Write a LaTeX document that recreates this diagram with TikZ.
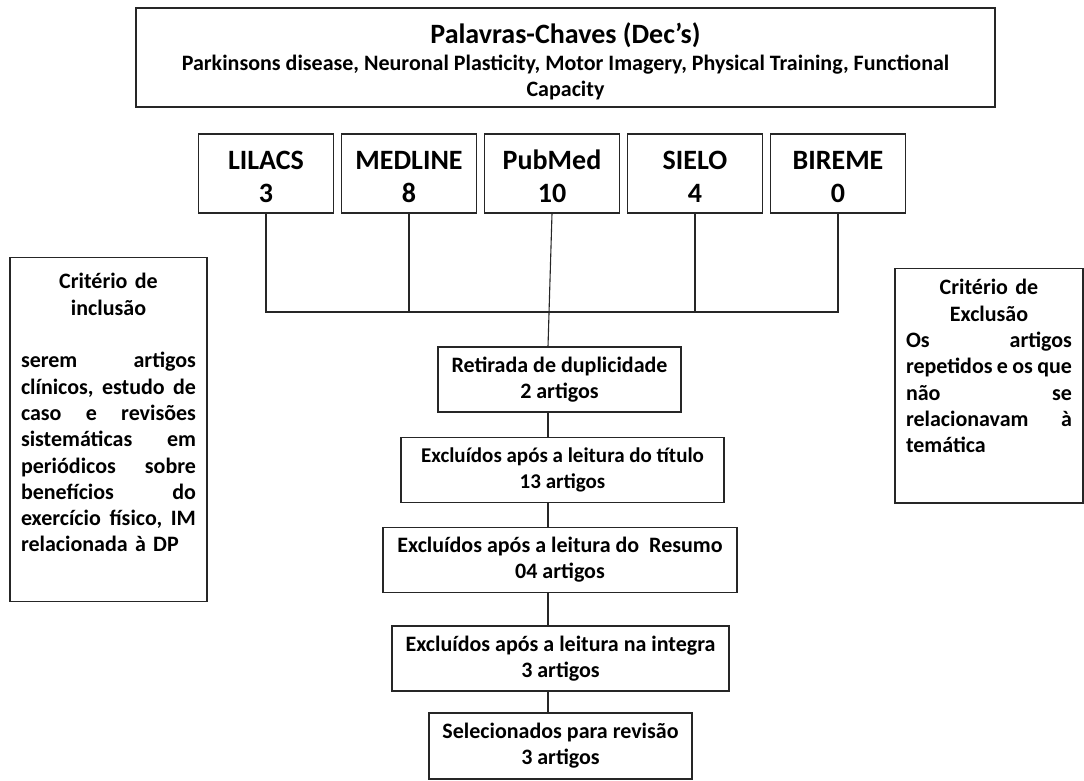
\documentclass[tikz,border=0pt]{standalone}
\usepackage{fontspec}
\setmainfont{Carlito}
\usetikzlibrary{positioning}
\newcommand{\smallfnt}{\fontsize{22}{26}\selectfont\bfseries}
\newcommand{\critfnt}{\fontsize{22}{26.3}\selectfont\bfseries}
\newcommand{\bigfnt}{\fontsize{28}{33}\selectfont\bfseries}
\newcommand{\dbstrut}{\rule[-2pt]{0pt}{28pt}}
\tikzset{
    box/.style={draw=black!85, line width=1.1pt, inner sep=0pt, align=center, font=\smallfnt},
    dbbox/.style={box, minimum width=135, minimum height=79, font=\bigfnt},
    flowbox/.style={box, minimum height=65},
    critbox/.style={draw=black!85, line width=1.1pt, inner xsep=11, inner ysep=11, anchor=north, align=left, font=\critfnt},
    link/.style={draw=black!85, line width=1.1pt}
}
\begin{document}
\begin{tikzpicture}[x=1pt, y=-1pt]
    \useasboundingbox (0, 0) rectangle (1084, 780);
    % palavras-chaves
    \node[box, minimum width=859, minimum height=99, text width=857, align=flush center] (keys) at (565.5, 57.5)
        {{\bigfnt\rule{0pt}{28pt}Palavras-Chaves (Dec’s)\par}\vspace{1pt}
         Parkinsons disease, Neuronal Plasticity, Motor Imagery, Physical Training, Functional\par
         Capacity};
    % bases de dados
    \node[dbbox] (lil) at (266, 173.5) {\dbstrut LILACS\\\dbstrut 3};
    \node[dbbox] (med) at (409, 173.5) {\dbstrut MEDLINE\\\dbstrut 8};
    \node[dbbox] (pub) at (552, 173.5) {\dbstrut PubMed\\\dbstrut 10};
    \node[dbbox] (sie) at (695, 173.5) {\dbstrut SIELO\\\dbstrut 4};
    \node[dbbox] (bir) at (838, 173.5) {\dbstrut BIREME\\\dbstrut 0};
    % fluxo
    \node[flowbox, minimum width=243] (ret) at (559.5, 379.5) {Retirada de duplicidade\\2 artigos};
    \node[flowbox, minimum width=323, font=\fontsize{21}{26}\selectfont\bfseries] (tit) at (562.5, 470) {Excluídos após a leitura do título\\13 artigos};
    \node[flowbox, minimum width=354] (res) at (560, 560) {Excluídos após a leitura do\ \ Resumo\\04 artigos};
    \node[flowbox, minimum width=337] (int) at (560.5, 658.5) {Excluídos após a leitura na integra\\3 artigos};
    \node[flowbox, minimum width=263, minimum height=66] (sel) at (560.5, 746) {Selecionados para revisão\\3 artigos};
    % criterios
    \node[critbox, text width=175, inner ysep=16] (inc) at (108.5, 257)
        {\hfil Critério de\\
         \hfil inclusão\\
         \mbox{}\\
         serem\hfill artigos\\
         clínicos,\hfill estudo\hfill de\\
         caso\hfill e\hfill revisões\\
         sistemáticas\hfill em\\
         periódicos\hfill sobre\\
         benefícios\hfill do\\
         exercício\hfill físico,\hfill IM\\
         relacionada à DP\par\vspace*{33pt}\hrule height 0pt width 0pt};
    \node[critbox, text width=166] (exc) at (989, 268)
        {\hfil Critério de\\
         \hfil Exclusão\\
         Os\hfill artigos\\
         repetidos\hfill e\hfill os\hfill que\\
         não\hfill se\\
         relacionavam\hfill à\\
         temática\par\vspace*{39pt}\hrule height 0pt width 0pt};
    % ligacoes
    \coordinate (bus) at (0, 312);
    \coordinate (spine) at (548, 0);
    \draw[link] (lil.south) -- (lil.south |- bus) -- (bir.south |- bus) -- (bir.south);
    \draw[link] (med.south) -- (med.south |- bus);
    \draw[link] (sie.south) -- (sie.south |- bus);
    \draw[link] (pub.south) -- (spine |- ret.north);
    \draw[link] (spine |- ret.south) -- (spine |- tit.north);
    \draw[link] (spine |- tit.south) -- (spine |- res.north);
    \draw[link] (spine |- res.south) -- (spine |- int.north);
    \draw[link] (spine |- int.south) -- (spine |- sel.north);
\end{tikzpicture}
\end{document}
